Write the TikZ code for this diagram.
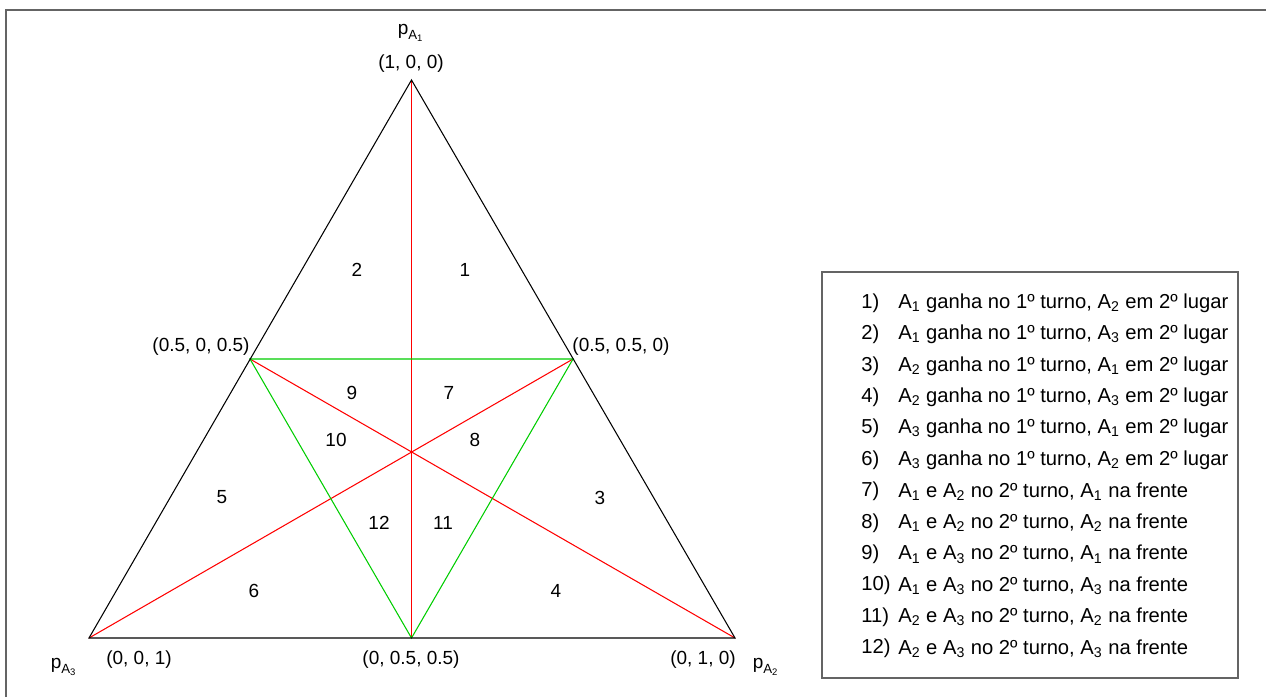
\documentclass[tikz,border=0pt]{standalone}
\usepackage{amsmath}
\usepackage{fontspec}
\setmainfont{Liberation Sans}
\definecolor{framegray}{RGB}{100,100,100}
\definecolor{medgreen}{RGB}{0,205,0}
\begin{document}
\begin{tikzpicture}[x=0.02cm, y=-0.02cm, font=\fontsize{10.8}{12}\selectfont]
    \useasboundingbox (0,0) rectangle (1266,697);
    % Outer frame (only top and left edges show)
    \draw[framegray, line width=1.1pt] (6,697) -- (6,10) -- (1266,10);
    % Vertices of the simplex and midpoints
    \coordinate (V1) at (411.5,80);
    \coordinate (V2) at (735,638);
    \coordinate (V3) at (89,638);
    \coordinate (M12) at (573,359);
    \coordinate (M13) at (250,359);
    \coordinate (M23) at (411.5,638);
    % Medians
    \draw[red, line width=0.75pt] (V1) -- (M23);
    \draw[red, line width=0.6pt] (V3) -- (M12);
    \draw[red, line width=0.6pt] (V2) -- (M13);
    % Medial triangle
    \draw[medgreen, line width=0.6pt] (M13) -- (M12) -- (M23) -- cycle;
    % Outer triangle
    \draw[black, line width=0.6pt] (V1) -- (V2) -- (V3) -- cycle;
    % Vertex labels
    \node (p1) at (411,33) {$\text{p}_{\text{A}_{\text{1}}}$};
    \node (c1) at (411,64) {(1, 0, 0)};
    \node (p2) at (766,667) {$\text{p}_{\text{A}_{\text{2}}}$};
    \node (c2) at (703,660) {(0, 1, 0)};
    \node (p3) at (64,667) {$\text{p}_{\text{A}_{\text{3}}}$};
    \node (c3) at (139,660) {(0, 0, 1)};
    \node (c13) at (201,347) {(0.5, 0, 0.5)};
    \node (c12) at (621,347) {(0.5, 0.5, 0)};
    \node (c23) at (411,660) {(0, 0.5, 0.5)};
    % Region numbers
    \foreach \n/\x/\y in {1/465/270, 2/357/270, 3/600/498, 4/556/591, 5/222/497, 6/254/591,
                          7/449/393, 8/475/440, 9/352/393, 10/336/440, 11/443/523, 12/379/523}
        \node (r\n) at (\x,\y) {\n};
    % Legend
    \draw[framegray, line width=0.9pt] (822,272) rectangle (1238,678);
    \foreach \n/\txt in {
        1/{A\textsubscript{1} ganha no 1º turno, A\textsubscript{2} em 2º lugar},
        2/{A\textsubscript{1} ganha no 1º turno, A\textsubscript{3} em 2º lugar},
        3/{A\textsubscript{2} ganha no 1º turno, A\textsubscript{1} em 2º lugar},
        4/{A\textsubscript{2} ganha no 1º turno, A\textsubscript{3} em 2º lugar},
        5/{A\textsubscript{3} ganha no 1º turno, A\textsubscript{1} em 2º lugar},
        6/{A\textsubscript{3} ganha no 1º turno, A\textsubscript{2} em 2º lugar},
        7/{A\textsubscript{1} e A\textsubscript{2} no 2º turno, A\textsubscript{1} na frente},
        8/{A\textsubscript{1} e A\textsubscript{2} no 2º turno, A\textsubscript{2} na frente},
        9/{A\textsubscript{1} e A\textsubscript{3} no 2º turno, A\textsubscript{1} na frente},
        10/{A\textsubscript{1} e A\textsubscript{3} no 2º turno, A\textsubscript{3} na frente},
        11/{A\textsubscript{2} e A\textsubscript{3} no 2º turno, A\textsubscript{2} na frente},
        12/{A\textsubscript{2} e A\textsubscript{3} no 2º turno, A\textsubscript{3} na frente}}
    {
        \node[anchor=west, inner sep=0pt, font=\fontsize{11.5}{13}\selectfont] (num\n) at (861,{303+(\n-1)*31.4}) {\n)};
        \node[anchor=west, inner sep=0pt, font=\fontsize{11.5}{13}\selectfont] (item\n) at (898,{303+(\n-1)*31.4}) {\txt};
    }
\end{tikzpicture}
\end{document}
